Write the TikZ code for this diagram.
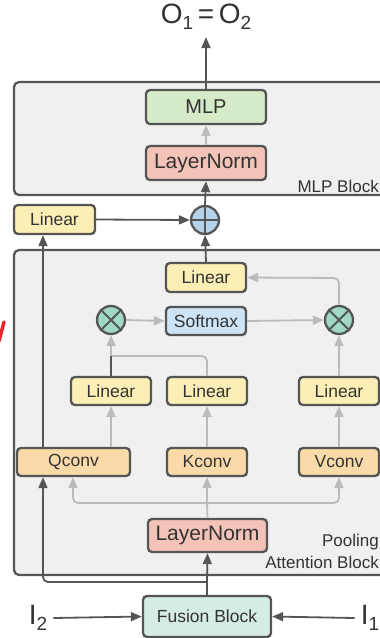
\documentclass[tikz,border=0pt]{standalone}
\usepackage{fontspec}
\setmainfont{Liberation Sans}
\usetikzlibrary{arrows.meta,calc}

\definecolor{edge}{HTML}{555555}
\definecolor{txt}{HTML}{333333}
\definecolor{soft}{HTML}{BBBBBB}
\definecolor{panel}{HTML}{F0F0F0}
\definecolor{cgreen}{HTML}{D5EAC6}
\definecolor{cred}{HTML}{F4C3B8}
\definecolor{cyellow}{HTML}{FBEFB6}
\definecolor{corange}{HTML}{F9DAA8}
\definecolor{cblue}{HTML}{CDE4F6}
\definecolor{cplus}{HTML}{B2D3EE}
\definecolor{cteal}{HTML}{A0D8C8}
\definecolor{cfusion}{HTML}{D5EBE6}
\definecolor{penred}{HTML}{E8232B}

\tikzset{
  panelbox/.style={draw=edge, fill=panel, line width=2.3pt, rounded corners=5pt},
  block/.style={draw=edge, line width=2.3pt, rounded corners=4pt, text=txt,
    inner sep=0pt, font=\fontsize{17.5}{20}\selectfont},
  opcirc/.style={draw=edge, line width=2.3pt, circle, minimum size=28pt, inner sep=0pt},
  darkarrow/.style={draw=edge, line width=1.8pt, -{Triangle[length=11pt,width=9pt]}},
  darkline/.style={draw=edge, line width=1.8pt},
  greyarrow/.style={draw=soft, line width=1.8pt, -{Triangle[length=11pt,width=9pt]}, rounded corners=5pt},
  greyline/.style={draw=soft, line width=1.8pt, rounded corners=5pt},
  label/.style={text=txt, inner sep=0pt, font=\fontsize{17}{20}\selectfont},
  biglabel/.style={text=txt, inner sep=0pt, font=\fontsize{28}{30}\selectfont},
}

\begin{document}
\begin{tikzpicture}[x=1pt, y=-1pt]
\useasboundingbox (0,0) rectangle (380,638);
\clip (0,0) rectangle (380,638);

% outer panels
\draw[panelbox] (14,82) rectangle (420,195);
\draw[panelbox] (14,250) rectangle (420,575);

% MLP block
\node[biglabel] (out) at (206,17) {O\raisebox{-0.22em}{\fontsize{19}{19}\selectfont 1}\,=\,O\raisebox{-0.22em}{\fontsize{19}{19}\selectfont 2}};
\node[block, fill=cgreen, minimum width=120pt, minimum height=34pt, font=\fontsize{20}{22}\selectfont] (mlp) at (206,107) {MLP};
\node[block, fill=cred, minimum width=120pt, minimum height=34pt, font=\fontsize{21}{23}\selectfont] (ln1) at (206,163) {LayerNorm};
\node[label, anchor=base east] (mlpname) at (379,192) {MLP Block};

% residual join
\node[block, fill=cyellow, minimum width=81pt, minimum height=29pt] (lin0) at (54.5,219.5) {Linear};
\node[opcirc, fill=cplus] (plus) at (205,220) {};
\draw[edge, line width=1.8pt] (plus.north) -- (plus.south) (plus.west) -- (plus.east);

% pooling attention block
\node[block, fill=cyellow, minimum width=80pt, minimum height=29pt] (linA) at (206,277.5) {Linear};
\node[block, fill=cblue, minimum width=80pt, minimum height=28pt] (softmax) at (206,321) {Softmax};
\node[opcirc, fill=cteal] (ox1) at (111,320) {};
\node[opcirc, fill=cteal] (ox2) at (339,320) {};
\foreach \c in {ox1,ox2}{
  \draw[edge, line width=1.8pt] (\c.north west) -- (\c.south east) (\c.north east) -- (\c.south west);
}
\node[block, fill=cyellow, minimum width=80pt, minimum height=28pt] (l1) at (111,391) {Linear};
\node[block, fill=cyellow, minimum width=80pt, minimum height=28pt] (l2) at (207,391) {Linear};
\node[block, fill=cyellow, minimum width=80pt, minimum height=28pt] (l3) at (339,391) {Linear};
\node[block, fill=corange, minimum width=113pt, minimum height=28pt] (qconv) at (73.5,462) {Qconv};
\node[block, fill=corange, minimum width=80pt, minimum height=28pt] (kconv) at (207,462) {Kconv};
\node[block, fill=corange, minimum width=80pt, minimum height=28pt] (vconv) at (339,462) {Vconv};
\node[block, fill=cred, minimum width=119pt, minimum height=33pt, font=\fontsize{21}{23}\selectfont] (ln2) at (207.5,535.5) {LayerNorm};
\node[label, anchor=base east] (poolname) at (379,546) {Pooling};
\node[label, anchor=base east] (attname) at (379,568) {Attention Block};

% inputs
\node[block, fill=cfusion, minimum width=128pt, minimum height=41pt] (fusion) at (207,616.5) {Fusion Block};
\node[biglabel] (in2) at (38,618) {I\raisebox{-0.22em}{\fontsize{19}{19}\selectfont 2}};
\node[biglabel] (in1) at (370,618) {I\raisebox{-0.22em}{\fontsize{19}{19}\selectfont 1}};

% helper coordinates for routed connectors
\coordinate (qx) at (43,582);
\coordinate (split) at (207,582);
\coordinate (fan) at (207,503);
\coordinate (qin) at (73,503);
\coordinate (kq) at (207,356);
\coordinate (vback) at (339,278);

% dark connectors
\draw[darkarrow] (mlp.north) -- ($(out.south)+(0,7)$);
\draw[darkarrow] (plus.north) -- (ln1.south);
\draw[darkarrow] (lin0.east) -- (plus.west);
\draw[darkarrow] (linA.north) -- (plus.south);
\draw[darkarrow] (qconv.north -| qx) -- (lin0.south -| qx);
\draw[darkline] (fusion.north) -- (split);
\draw[darkarrow] (split) -- (ln2.south);
\draw[darkarrow, rounded corners=5pt] (split) -- (qx) -- (qconv.south -| qx);
\draw[darkarrow] ($(in2.east)+(6,0)$) -- (fusion.west);
\draw[darkarrow] ($(in1.west)+(-6,0)$) -- (fusion.east);

% grey connectors
\draw[greyarrow] (ln1.north) -- (mlp.south);
\draw[greyline] (ln2.north) -- (fan);
\draw[greyarrow] (fan) -- (kconv.south);
\draw[greyarrow] (fan) -- (qin) -- (qconv.south -| qin);
\draw[greyarrow] (fan) -- (fan -| vconv) -- (vconv.south);
\draw[greyarrow] (qconv.north -| l1) -- (l1.south);
\draw[greyarrow] (kconv.north) -- (l2.south);
\draw[greyarrow] (vconv.north) -- (l3.south);
\draw[greyline] (l2.north) -- (kq) -- (kq -| l1);
\draw[darkline] (l1.north) -- (kq -| l1);
\draw[greyarrow] (kq -| l1) -- (ox1.south);
\draw[greyarrow] (l3.north) -- (ox2.south);
\draw[greyarrow] (ox1.east) -- (softmax.west);
\draw[greyarrow] (softmax.east) -- (ox2.west);
\draw[greyarrow] (ox2.north) -- (vback) -- (linA.east);

% red pen stroke at the left margin
\draw[draw=penred, line width=3.5pt, line cap=round] (-1,341) -- (4,322);
\end{tikzpicture}
\end{document}
